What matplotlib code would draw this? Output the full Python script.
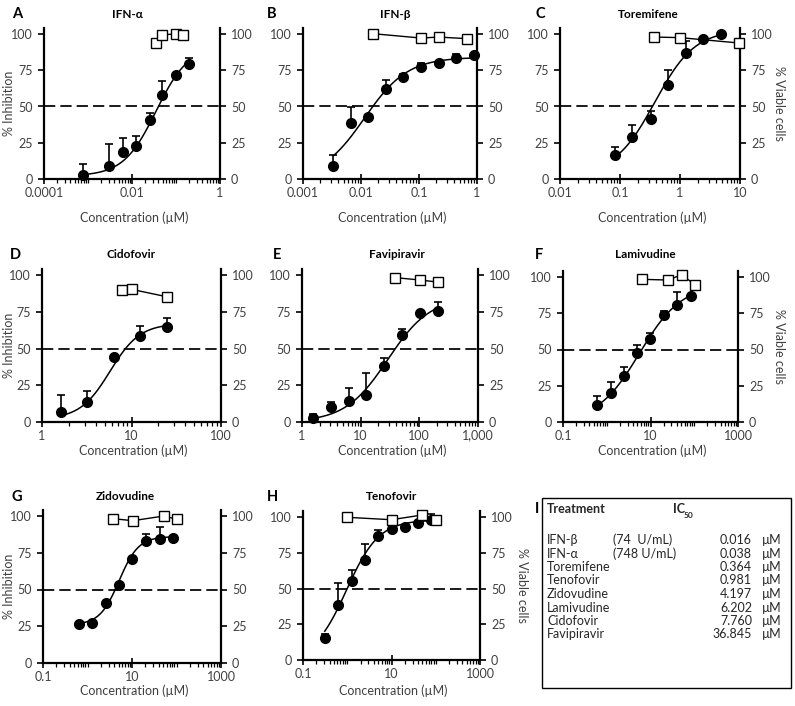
import numpy as np
import matplotlib
matplotlib.use('Agg')
import matplotlib.pyplot as plt
from matplotlib.patches import Rectangle
from matplotlib.ticker import LogLocator, NullFormatter

plt.rcParams['font.family'] = ['Lato', 'DejaVu Sans']

# ---------------- data ----------------
titles = ['IFN-α', 'IFN-β', 'Toremifene', 'Cidofovir', 'Favipiravir',
          'Lamivudine', 'Zidovudine', 'Tenofovir']
letters = ['A', 'B', 'C', 'D', 'E', 'F', 'G', 'H']

# A IFN-alpha
a_conc = [0.00077, 0.003, 0.0061, 0.0122, 0.025, 0.049, 0.1, 0.197]
a_inh = [3, 9, 18.5, 22.5, 40.5, 58, 72, 79]
a_err = [7.4, 15, 9.5, 7.2, 4.9, 9.5, 0, 4.4]
a_vconc = [0.036, 0.049, 0.1, 0.141]
a_via = [94, 99.5, 100, 99.5]
a_fit = [2, 92, -1.45, 1.17]   # bottom, top, logEC, hill

# B IFN-beta
b_conc = [0.00335, 0.0066, 0.0133, 0.027, 0.054, 0.109, 0.217, 0.44, 0.877]
b_inh = [9.2, 38.5, 42.6, 62.2, 70.3, 77.2, 79.7, 83.2, 85.5]
b_err = [7.4, 11, 0, 5.8, 2.3, 2.8, 0, 3.2, 0]
b_vconc = [0.0163, 0.109, 0.217, 0.664]
b_via = [100.2, 97.2, 97.9, 96.8]
b_fit = [0, 84, -1.94, 1.17]

# C Toremifene
c_conc = [0.0826, 0.16, 0.324, 0.63, 1.24, 2.42, 4.76]
c_inh = [16.4, 28.8, 41.7, 65, 87.1, 96.8, 100]
c_err = [5.7, 8.5, 5.1, 10, 8, 0, 0]
c_vconc = [0.373, 1.0, 9.6]
c_via = [97.9, 97.5, 93.8]
c_fit = [3, 103, -0.42, 1.3]

# D Cidofovir
d_conc = [1.61, 3.2, 6.3, 12.5, 24.8]
d_inh = [6.8, 13.9, 44.1, 58.2, 64.8]
d_err = [11.4, 7, 0, 6.8, 5.7]
d_vconc = [7.87, 10.1, 24.8]
d_via = [89.8, 90.2, 85.2]
d_fit = [2, 67, 0.76, 2.6]

# E Favipiravir
e_conc = [1.52, 3.08, 6.24, 12.5, 25.3, 50.7, 102.6, 205]
e_inh = [3, 10.2, 14.1, 18.2, 38, 59.1, 74.3, 75.5]
e_err = [2.7, 3.4, 9.3, 15.2, 5.2, 4.5, 0, 5.9]
e_vconc = [39, 102.6, 205]
e_via = [98.2, 96.6, 95.2]
e_fit = [0, 85, 1.462, 1.2]

# F Lamivudine
f_conc = [0.605, 1.22, 2.45, 4.93, 9.9, 20.3, 40.8, 83.6]
f_inh = [11.6, 19.8, 31.6, 47.9, 57, 73.7, 80.7, 86.7]
f_err = [6.3, 8.1, 6.3, 4.9, 4.6, 3, 9.3, 1.5]
f_vconc = [6.3, 25.5, 51.3, 103]
f_via = [98.4, 97.9, 101.6, 94.7]
f_fit = [0, 95, 0.75, 0.9]

# G Zidovudine
g_conc = [0.63, 1.29, 2.58, 5.16, 10.2, 20.4, 41.6, 83.4]
g_inh = [26.6, 27.5, 40.5, 53.4, 70.5, 83, 84.3, 84.8]
g_err = [0, 0, 0, 0, 0, 4.7, 8, 0]
g_vconc = [3.72, 10.4, 52.1, 104.5]
g_via = [98.2, 96.8, 100, 97.7]
g_fit = [26, 86, 0.711, 2.0]

# H Tenofovir
h_conc = [0.31, 0.63, 1.27, 2.49, 4.99, 10, 20, 40.2, 79]
h_inh = [15.1, 38.6, 55.1, 70, 86.7, 91.9, 93, 96, 98.1]
h_err = [3, 15, 7.7, 10.9, 4.5, 0, 0, 0, 4.2]
h_vconc = [0.97, 10, 49.5, 101]
h_via = [99.8, 98.1, 101.4, 98.1]
h_fit = [0, 98, -0.015, 1.19]

xlims = [(1e-4, 1), (1e-3, 1), (1e-2, 10), (1, 100), (1, 1000),
         (0.1, 1000), (0.1, 1000), (0.1, 1000)]
xtick_vals = [[1e-4, 1e-2, 1], [1e-3, 1e-2, 0.1, 1], [0.01, 0.1, 1, 10],
              [1, 10, 100], [1, 10, 100, 1000], [0.1, 10, 1000],
              [0.1, 10, 1000], [0.1, 10, 1000]]
xtick_labels = [['0.0001', '0.01', '1'], ['0.001', '0.01', '0.1', '1'],
                ['0.01', '0.1', '1', '10'], ['1', '10', '100'],
                ['1', '10', '100', '1,000'], ['0.1', '10', '1000'],
                ['0.1', '10', '1000'], ['0.1', '10', '1000']]
yticks = [0, 25, 50, 75, 100]

# Table (panel I)
table_names = ['IFN-β', 'IFN-α', 'Toremifene', 'Tenofovir', 'Zidovudine',
               'Lamivudine', 'Cidofovir', 'Favipiravir']
table_notes = ['(74  U/mL)', '(748 U/mL)', '', '', '', '', '', '']
table_ic50 = [0.016, 0.038, 0.364, 0.981, 4.197, 6.202, 7.760, 36.845]

series = [
    (a_conc, a_inh, a_err, a_vconc, a_via, a_fit),
    (b_conc, b_inh, b_err, b_vconc, b_via, b_fit),
    (c_conc, c_inh, c_err, c_vconc, c_via, c_fit),
    (d_conc, d_inh, d_err, d_vconc, d_via, d_fit),
    (e_conc, e_inh, e_err, e_vconc, e_via, e_fit),
    (f_conc, f_inh, f_err, f_vconc, f_via, f_fit),
    (g_conc, g_inh, g_err, g_vconc, g_via, g_fit),
    (h_conc, h_inh, h_err, h_vconc, h_via, h_fit),
]

# ---------------- layout (pixels) ----------------
W, H = 795, 706
fig = plt.figure(figsize=(W / 100, H / 100), dpi=100)

def fx(px):
    return px / W

def fy(py):
    return 1 - py / H

YTOP = 104
# left px, right px, y(0) px, y(100) px
boxes = [(44, 220, 179, 34), (303, 477, 179, 34), (560, 740, 179, 34),
         (42, 221, 422, 275), (302, 478, 422, 275), (563, 738, 422, 277),
         (43, 221, 663, 516), (303, 480, 660, 517)]
xlabel_y = [218, 218, 218, 451, 451, 451, 691, 691]
letter_pos = [(12, 14), (267, 14), (535, 14), (10, 255), (273, 255),
              (535, 255), (12, 497), (267, 497)]
title_x = [127, 395, 648, 131, 397, 645, 125, 392]
left_label = {0, 3, 6}
right_label_x = {2: 779, 5: 779, 7: 522}

TICKC = '#404040'
FS = 9

for i, (conc, inh, err, vconc, via, fit) in enumerate(series):
    l, r, y0, y100 = boxes[i]
    hpx = (y0 - y100) * YTOP / 100
    ax = fig.add_axes([fx(l), fy(y0), (r - l) / W, hpx / H])
    ax.set_xscale('log')
    ax.set_xlim(*xlims[i])
    ax.set_ylim(0, YTOP)
    ax.patch.set_alpha(0)

    # 50% reference line
    ax.axhline(50, color='#1a1a1a', lw=1.4, dashes=(5.8, 2.6), zorder=1)

    # fitted curve
    bottom, top, logec, hill = fit
    xs = np.logspace(np.log10(conc[0]), np.log10(conc[-1]), 300)
    ys = bottom + (top - bottom) / (1 + 10 ** ((logec - np.log10(xs)) * hill))
    ax.plot(xs, ys, color='black', lw=1.1, zorder=2)

    # error bars (upper only)
    ax.errorbar(conc, inh, yerr=[np.zeros(len(err)), err], fmt='none',
                ecolor='black', elinewidth=1.2, capsize=3, capthick=1.2, zorder=3)
    ax.plot(conc, inh, 'o', color='black', ms=7, zorder=4, clip_on=False)

    ax.set_xticks(xtick_vals[i], xtick_labels[i])
    ax.xaxis.set_minor_locator(LogLocator(base=10, subs=np.arange(1, 10), numticks=50))
    ax.xaxis.set_minor_formatter(NullFormatter())
    ax.set_yticks(yticks)
    ax.tick_params(axis='x', which='major', direction='inout', length=7, width=1.2,
                   labelsize=FS, labelcolor=TICKC, pad=2)
    ax.tick_params(axis='x', which='minor', direction='out', length=3, width=0.9)
    ax.tick_params(axis='y', direction='out', length=4, width=1.2,
                   labelsize=FS, labelcolor=TICKC, pad=4)
    for s in ('left', 'bottom'):
        ax.spines[s].set_linewidth(1.6)
    ax.spines['top'].set_visible(False)
    ax.spines['right'].set_visible(False)

    ax2 = ax.twinx()
    ax2.set_ylim(0, YTOP)
    ax2.set_yticks(yticks)
    ax2.tick_params(axis='y', direction='out', length=4, width=1.2,
                    labelsize=FS, labelcolor=TICKC, pad=4)
    ax2.spines['right'].set_linewidth(1.6)
    for s in ('left', 'bottom', 'top'):
        ax2.spines[s].set_visible(False)
    ax2.plot(vconc, via, '-s', color='black', lw=1.0, ms=7, mfc='white',
             mec='black', mew=1.0, zorder=4, clip_on=False)

    fig.text(fx((l + r) / 2 + 2), fy(xlabel_y[i]), 'Concentration (µM)', fontsize=9,
             color=TICKC, ha='center', va='center')
    yc = fy(y0 - hpx / 2)
    if i in left_label:
        fig.text(fx(9), yc, '% Inhibition', fontsize=9, color=TICKC,
                 rotation=90, ha='center', va='center')
    if i in right_label_x:
        fig.text(fx(right_label_x[i]), yc, '% Viable cells', fontsize=9,
                 color=TICKC, rotation=270, ha='center', va='center')

    fig.text(fx(letter_pos[i][0]), fy(letter_pos[i][1]), letters[i],
             fontsize=10.5, fontweight='bold', ha='left', va='center')
    fig.text(fx(title_x[i]), fy(letter_pos[i][1]), titles[i], fontsize=8.5,
             fontweight='bold', ha='center', va='center')

# ---------------- panel I: table ----------------
fig.text(fx(535), fy(509), 'I', fontsize=10.5, fontweight='bold',
         ha='left', va='center')
fig.patches.append(Rectangle((fx(542), fy(688)), (791 - 542) / W, (688 - 498) / H,
                             transform=fig.transFigure, fill=False,
                             edgecolor='black', lw=1.0))
TC = '#262626'
fig.text(fx(547), fy(509), 'Treatment', fontsize=9, fontweight='bold',
         color=TC, ha='left', va='center')
fig.text(fx(673), fy(509), 'IC', fontsize=9, fontweight='bold',
         color=TC, ha='left', va='center')
fig.text(fx(684), fy(512), '50', fontsize=6, fontweight='bold',
         color=TC, ha='left', va='top')
for k, (name, note, val) in enumerate(zip(table_names, table_notes, table_ic50)):
    yy = fy(540 + 13.5 * k)
    fig.text(fx(547), yy, name, fontsize=9, color=TC, ha='left', va='center')
    if note:
        fig.text(fx(613), yy, note, fontsize=9, color=TC, ha='left', va='center')
    fig.text(fx(752), yy, f'{val:.3f}', fontsize=9, color=TC, ha='right', va='center')
    fig.text(fx(762), yy, 'µM', fontsize=9, color=TC, ha='left', va='center')

fig.savefig('out.png', dpi=100)
